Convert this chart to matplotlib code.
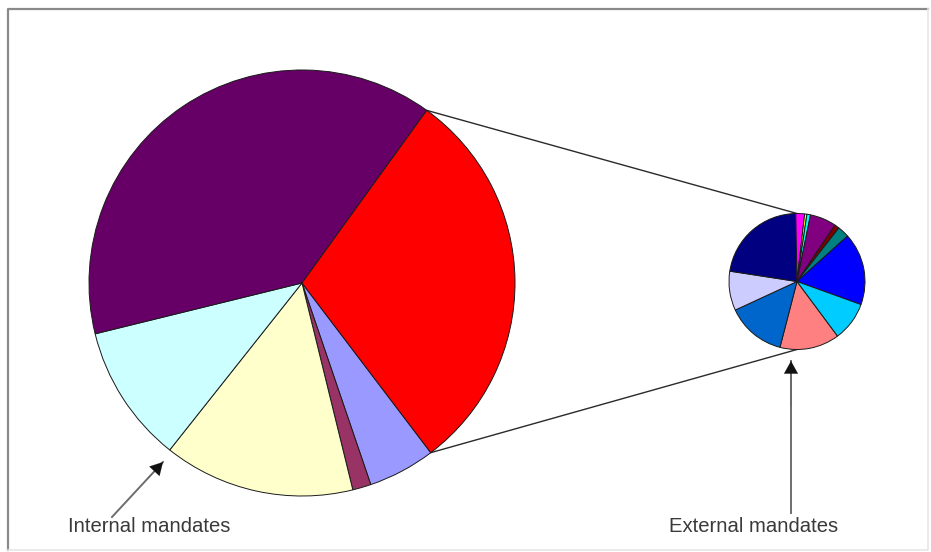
import numpy as np
import matplotlib
matplotlib.use("Agg")
import matplotlib.pyplot as plt
from matplotlib.lines import Line2D

# Share of mandates (% of total)
internal_labels = ["Group A", "Group B", "Group C", "Group D", "Group E"]
internal_values = [5.1, 1.4, 14.5, 10.5, 38.8]
internal_colors = ["#9999FF", "#993366", "#FFFFCC", "#CCFFFF", "#660066"]

external_labels = ["Ext 1", "Ext 2", "Ext 3", "Ext 4", "Ext 5", "Ext 6",
                   "Ext 7", "Ext 8", "Ext 9", "Ext 10", "Ext 11", "Ext 12"]
external_values = [4.22, 4.18, 2.77, 6.62, 0.62, 0.16,
                   0.25, 1.86, 0.33, 0.83, 5.10, 2.77]
external_colors = ["#FF8080", "#0066CC", "#CCCCFF", "#000080", "#FF00FF", "#FFFF00",
                   "#00FFFF", "#800080", "#800000", "#008080", "#0000FF", "#00CCFF"]
other_color = "#FF0000"

W, H = 931, 552
fig = plt.figure(figsize=(W / 100, H / 100), dpi=100)
ax = fig.add_axes([0, 0, 1, 1])

# geometry in pixel units, y pointing up
main_c, main_r = (302, H - 283), 213
sub_c, sub_r = (797, H - 281.5), 68
main_start = -52.8
sub_start = -53.4

other_total = sum(external_values)
main_vals = internal_values + [other_total]
main_cols = internal_colors + [other_color]

wedge_kw = dict(edgecolor="#1a1a1a", linewidth=0.7)
ax.pie(main_vals, colors=main_cols, center=main_c, radius=main_r,
       startangle=main_start, counterclock=False, frame=True,
       wedgeprops=wedge_kw)
ax.pie(external_values, colors=external_colors, center=sub_c, radius=sub_r,
       startangle=sub_start, counterclock=False, frame=True,
       wedgeprops=wedge_kw)

# connector lines from the aggregated slice to the secondary pie
total = sum(main_vals)
other_deg = other_total / total * 360.0
top_ang = np.deg2rad(main_start + other_deg)
bot_ang = np.deg2rad(main_start)
p_top = (main_c[0] + main_r * np.cos(top_ang), main_c[1] + main_r * np.sin(top_ang))
p_bot = (main_c[0] + main_r * np.cos(bot_ang), main_c[1] + main_r * np.sin(bot_ang))
ax.add_line(Line2D([p_top[0], sub_c[0]], [p_top[1], sub_c[1] + sub_r],
                   color="#2a2a2a", lw=1.0, zorder=0))
ax.add_line(Line2D([p_bot[0], sub_c[0]], [p_bot[1], sub_c[1] - sub_r],
                   color="#2a2a2a", lw=1.0, zorder=0))

# labels with arrows: grey shaft, black head
font = dict(family="Liberation Sans", size=14.6, color="#3a3a3a")
head = dict(arrowstyle="-|>,head_length=0.9,head_width=0.5", mutation_scale=10,
            color="#111111", lw=0.1, shrinkA=0, shrinkB=0)


def pointer(tail, tip):
    ax.add_line(Line2D([tail[0], tip[0]], [tail[1], tip[1]],
                       color="#6e6e6e", lw=1.4, zorder=3))
    ax.annotate("", xy=tip, xytext=(tip[0] + (tail[0] - tip[0]) * 0.3,
                                    tip[1] + (tail[1] - tip[1]) * 0.3),
                arrowprops=head, zorder=4)


ax.text(68, H - 527, "Internal mandates", ha="left", va="center", **font)
pointer((112, H - 517), (163, H - 462))
ax.text(669, H - 527, "External mandates", ha="left", va="center", **font)
pointer((791, H - 513), (791, H - 361))

# chart border
ax.add_line(Line2D([8, 8, 928], [H - 550, H - 9, H - 9], color="#8a8a8a", lw=1.6))
ax.add_line(Line2D([928, 928, 8], [H - 9, H - 550, H - 550], color="#e6e6e6", lw=1.2))

ax.set_xlim(0, W)
ax.set_ylim(0, H)
ax.set_aspect("equal")
ax.axis("off")

fig.savefig("out.png", dpi=100, facecolor="white")
